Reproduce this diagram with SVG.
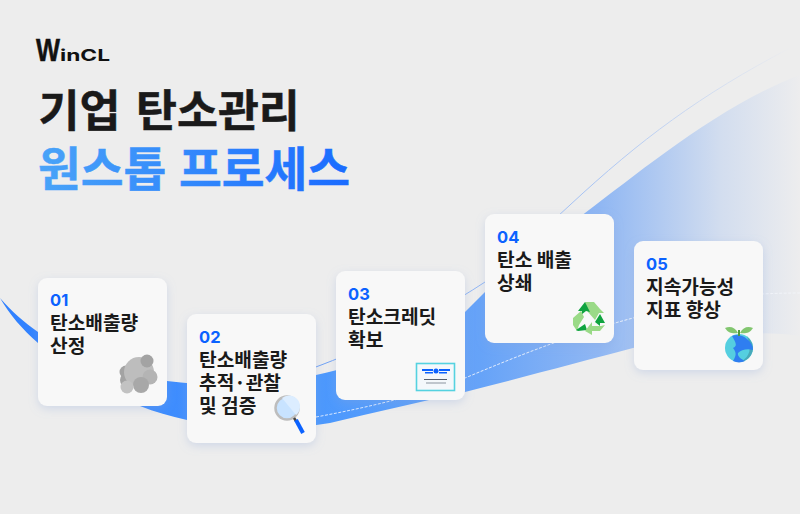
<svg xmlns="http://www.w3.org/2000/svg" width="800" height="514" viewBox="0 0 800 514">
<defs>
<linearGradient id="band" gradientUnits="userSpaceOnUse" x1="0" y1="0" x2="800" y2="0">
<stop offset="0" stop-color="#2f80ff"/><stop offset="0.4" stop-color="#4b98fd"/><stop offset="0.6" stop-color="#66a3f8"/><stop offset="0.75" stop-color="#90b7f3"/><stop offset="0.9" stop-color="#d2ddef"/><stop offset="1" stop-color="#ededee"/>
</linearGradient>
<linearGradient id="thin" gradientUnits="userSpaceOnUse" x1="300" y1="0" x2="790" y2="0">
<stop offset="0" stop-color="#6b9ff5"/><stop offset="0.6" stop-color="#a9c4f3"/><stop offset="1" stop-color="#ededee"/>
</linearGradient>
<linearGradient id="dash" gradientUnits="userSpaceOnUse" x1="300" y1="0" x2="800" y2="0">
<stop offset="0" stop-color="#d6e6ff"/><stop offset="1" stop-color="#f2f4f8"/>
</linearGradient>
<linearGradient id="title2" gradientUnits="userSpaceOnUse" x1="40" y1="0" x2="350" y2="0">
<stop offset="0" stop-color="#49a3f8"/><stop offset="1" stop-color="#1a6bff"/>
</linearGradient>
<filter id="sh" x="-20%" y="-20%" width="140%" height="140%"><feDropShadow dx="0" dy="3" stdDeviation="5" flood-color="#8aa6d8" flood-opacity="0.3"/></filter>
</defs>
<style>
.card{fill:#f8f8f8;filter:url(#sh)}
.num{font-family:"Inter","Noto Sans",sans-serif;font-weight:700;font-size:16.5px;fill:#0b62ff}
.lab{font-family:"Noto Sans CJK KR",sans-serif;font-weight:700;font-size:19.2px;fill:#1a1a1a}
.t1{font-family:"Noto Sans CJK KR",sans-serif;font-weight:700;font-size:44.5px;fill:#1a1a1a;stroke:#1a1a1a;stroke-width:.5}
.t2{font-family:"Noto Sans CJK KR",sans-serif;font-weight:700;font-size:46.5px;fill:url(#title2);stroke:url(#title2);stroke-width:.5}
.lt{fill:#9ada87}
.dk{fill:#0fa33f}
</style>
<rect width="800" height="514" fill="#ededed"/>
<g id="connectors">
<path d="M0 298C12 312 24 322 38 332C70 358 120 378 167 381C220 388 270 384 316 375C370 364 420 340 465 312L485 292C520 262 550 238 585 213C640 172 720 105 800 75L800 336C770 332 730 333 700 335C680 337 655 342 633 348C580 362 520 378 465 392C420 402 375 412 330 423C280 431 235 431 187 420C170 416 155 412 140 406C105 390 70 370 38 343C22 329 10 315 0 298Z" fill="url(#band)"/>
<path d="M290 376C340 360 420 325 485 282C520 255 540 232 570 205C640 140 700 95 790 48" fill="none" stroke="url(#thin)" stroke-width="1"/>
<path d="M316 417C370 407 420 395 465 378C520 355 570 335 633 318C680 305 720 293 800 293" fill="none" stroke="url(#dash)" stroke-width="1" stroke-dasharray="3 1.5"/>
</g>
<g id="logo">
<text x="36" y="61" font-family="Liberation Sans,sans-serif" font-weight="700" font-size="31" fill="#111" stroke="#111" stroke-width=".5" textLength="24" lengthAdjust="spacingAndGlyphs">W</text>
<text x="60" y="61" font-family="Inter,sans-serif" font-weight="700" font-size="16" fill="#111" textLength="50" lengthAdjust="spacingAndGlyphs">inCL</text>
</g>
<g id="title">
<text class="t1" x="38.500" y="126.500">기업</text><text class="t1" x="136" y="126.500">탄소관리</text>
<text class="t2" x="38" y="186">원스톱</text><text class="t2" x="179" y="186">프로세스</text>
</g>
<g id="node-01">
<rect class="card" x="38" y="278" width="129" height="128" rx="9"/>
<text class="num" x="50" y="306">01</text>
<text class="lab" x="50" y="330">탄소배출량</text>
<text class="lab" x="50" y="353">산정</text>
<g>
<circle cx="126" cy="372" r="6.500" fill="#a3a3a3"/><circle cx="127" cy="380" r="7" fill="#a3a3a3"/><circle cx="139" cy="372" r="15" fill="#bdbdbd"/><circle cx="150" cy="377" r="7.500" fill="#b4b4b4"/><circle cx="141" cy="385" r="8" fill="#a8a8a8"/><circle cx="147" cy="361" r="6.500" fill="#a3a3a3"/><circle cx="127" cy="387" r="6.500" fill="#c2c2c2"/>
</g>
</g>
<g id="node-02">
<rect class="card" x="187" y="314" width="129" height="129" rx="9"/>
<text class="num" x="199" y="343">02</text>
<text class="lab" x="199" y="367">탄소배출량</text>
<text class="lab" x="199" y="390">추적·관찰</text>
<text class="lab" x="199" y="413">및 검증</text>
<g>
<circle cx="287" cy="408" r="11.500" fill="#c8e3ff" stroke="#bdbdbd" stroke-width="2.500"/>
<path d="M282 398A11 11 0 0 1 296 415Z" fill="#dcedff"/>
<line x1="294" y1="418" x2="296" y2="421" stroke="#444" stroke-width="2.500"/>
<line x1="296" y1="420" x2="303" y2="433" stroke="#0b62ff" stroke-width="4"/>
</g>
</g>
<g id="node-03">
<rect class="card" x="336" y="271" width="129" height="129" rx="9"/>
<text class="num" x="348" y="300">03</text>
<text class="lab" x="348" y="324">탄소크레딧</text>
<text class="lab" x="348" y="347">확보</text>
<g>
<rect x="416.500" y="363.500" width="38" height="27" fill="#f4f8fb" stroke="#55d2e0" stroke-width="1.600"/>
<rect x="422" y="369" width="11" height="2" fill="#0b62ff"/><rect x="439" y="369" width="11" height="2" fill="#0b62ff"/>
<rect x="425" y="372" width="8" height="1.500" fill="#0b62ff"/><rect x="439" y="372" width="8" height="1.500" fill="#0b62ff"/>
<circle cx="436" cy="371" r="2.500" fill="#0b62ff"/>
<rect x="424" y="379" width="23" height="1" fill="#555f6e"/><rect x="426" y="382.500" width="20" height="1" fill="#8a93a0"/>
</g>
</g>
<g id="node-04">
<rect class="card" x="485" y="214" width="129" height="129" rx="9"/>
<text class="num" x="497" y="243">04</text>
<text class="lab" x="497" y="267">탄소 배출</text>
<text class="lab" x="497" y="290">상쇄</text>
<g>
<polygon class="lt" points="585,302 594,302 600,309 604,313 599,313 595,320 588,312"/>
<polygon class="dk" points="585,302 578,311 582,311 581,315 586,311 590,312"/>
<polygon class="lt" points="573,318 581,311 584,317 579,325 577,331 573,325"/>
<polygon class="dk" points="576,330 585,324 587,330 578,331"/>
<polygon class="lt" points="585,331 592,322 592,326 601,326 605,325 600,331 592,331 592,335"/>
<polygon class="dk" points="595,322 600,314 605,323 600,323 600,326"/>
</g>
</g>
<g id="node-05">
<rect class="card" x="634" y="241" width="129" height="129" rx="9"/>
<text class="num" x="646" y="270">05</text>
<text class="lab" x="646" y="294">지속가능성</text>
<text class="lab" x="646" y="317">지표 향상</text>
<g>
<circle cx="739" cy="348" r="14" fill="#55cfe0"/>
<path d="M747 336.500A14 14 0 0 1 741 361.800C750 356 752 349 747 336.500Z" fill="#48a9b9"/>
<path d="M732 336C736 334 743 335 747 339C751 342 753 346 753 350C747 348 741 350 738 353C737 356 741 359 745 361A14 14 0 0 1 733 361C736 356 737 353 733 348C739 346 734 340 732 336Z" fill="#2f7ef0"/>
<rect x="738" y="330" width="2" height="6" fill="#4f9a3c"/>
<path d="M738 333C735 327 730 326 725 328C728 333 733 334 738 333Z" fill="#82c66f"/>
<path d="M740 333C743 327 748 326 753 328C750 333 745 334 740 333Z" fill="#82c66f"/>
</g>
</g>
</svg>
